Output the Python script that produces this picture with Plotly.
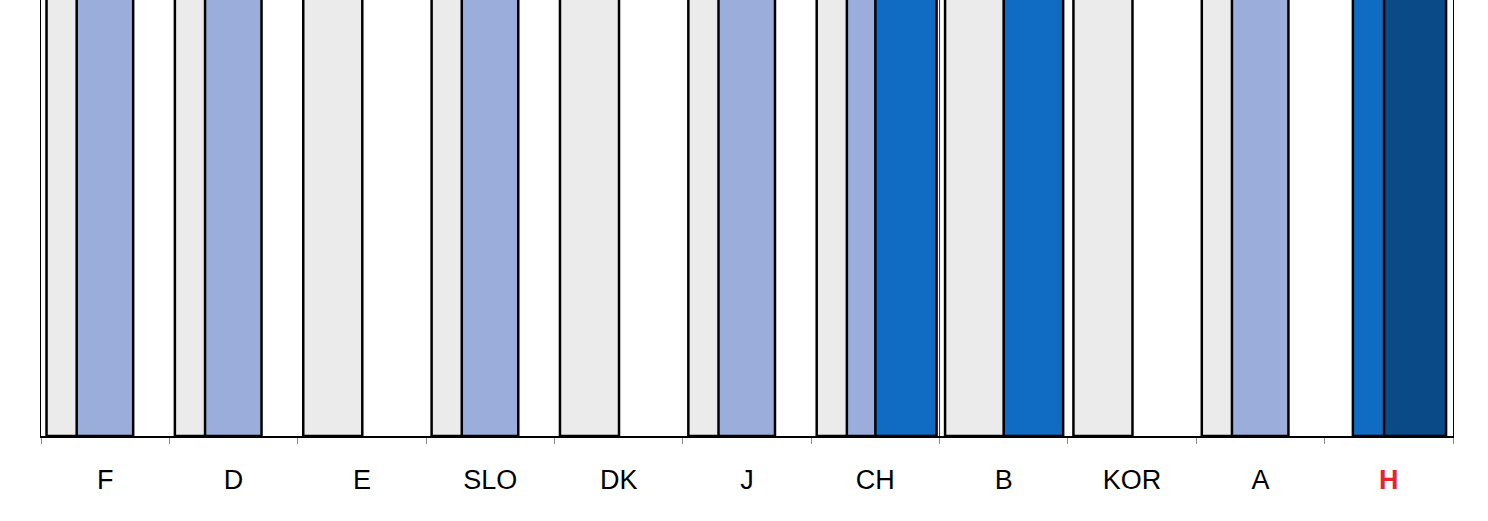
import plotly.graph_objects as go

# ---- data ----
categories = ["F", "D", "E", "SLO", "DK", "J", "CH", "B", "KOR", "A", "H"]
# All bars extend past the top of the visible window (values estimated)
gray_vals      = [100, 100, 100, 100, 100, 100, 100, 100, 100, 100, None]
lightblue_vals = [100, 100, None, 100, None, 100, 100, None, None, 100, None]
medblue_vals   = [None, None, None, None, None, None, 100, 100, None, None, 100]
darkblue_vals  = [None, None, None, None, None, None, None, None, None, None, 100]
y_visible_max = 60

# ---- positions / styles ----
gray_offset, gray_width = -0.457, 0.46
lb_offset, lb_width = -0.222, 0.44
mb_offset = [0.0] * 10 + [-0.28]
mb_width = [0.47, 0.47, 0.47, 0.47, 0.47, 0.47, 0.477, 0.463, 0.47, 0.47, 0.30]
db_offset, db_width = -0.037, 0.483

C_GRAY = "#EBEBEB"
C_LB = "#9BAEDB"
C_MB = "#106BC2"
C_DB = "#0A4A87"
OUTLINE = dict(color="black", width=2.5)

fig = go.Figure()
fig.add_trace(go.Bar(x=categories, y=gray_vals, offset=gray_offset, width=gray_width,
                     marker=dict(color=C_GRAY, line=OUTLINE), showlegend=False))
fig.add_trace(go.Bar(x=categories, y=lightblue_vals, offset=lb_offset, width=lb_width,
                     marker=dict(color=C_LB, line=OUTLINE), showlegend=False))
fig.add_trace(go.Bar(x=categories, y=medblue_vals, offset=mb_offset, width=mb_width,
                     marker=dict(color=C_MB, line=OUTLINE), showlegend=False))
fig.add_trace(go.Bar(x=categories, y=darkblue_vals, offset=db_offset, width=db_width,
                     marker=dict(color=C_DB, line=OUTLINE), showlegend=False))

ticktext = [c if c != "H" else "<b><span style='color:#E8232D'>H</span></b>" for c in categories]

fig.update_layout(
    barmode="overlay",
    width=1488, height=521,
    margin=dict(l=41, r=35, t=0, b=85),
    paper_bgcolor="white", plot_bgcolor="white",
    font=dict(family="Liberation Sans, Arial, sans-serif", size=27, color="black"),
    xaxis=dict(
        type="category", range=[-0.5, len(categories) - 0.5],
        tickmode="array", tickvals=categories, ticktext=ticktext,
        tickson="boundaries", ticks="outside", ticklen=6, tickwidth=1, tickcolor="#8c8c8c",
        showline=True, linecolor="black", linewidth=2,
        showgrid=False, zeroline=False, ticklabelstandoff=19,
    ),
    yaxis=dict(
        range=[0, y_visible_max], showticklabels=False, ticks="",
        showgrid=False, zeroline=False,
        showline=True, linecolor="black", linewidth=1, mirror=True,
    ),
    shapes=[dict(type="line", xref="x", yref="paper", x0=6.5, x1=6.5, y0=0, y1=1,
                 line=dict(color="#333333", width=1))],
)

fig.write_html("out.html",
               config={"displayModeBar": False},
               post_script="document.body.style.margin='0';document.body.style.overflow='hidden';")
